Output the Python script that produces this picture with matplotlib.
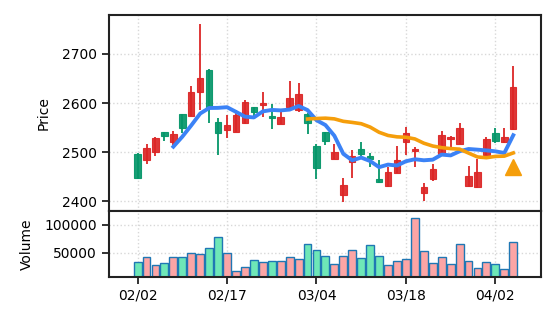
import matplotlib
matplotlib.use("Agg")
import matplotlib.pyplot as plt
import numpy as np
import pandas as pd

# daily candles (red = up, green = down)
opens = [2496, 2484, 2501, 2541, 2520.6, 2577.5, 2574, 2622, 2667.5, 2561,
         2545.6, 2542, 2559, 2591.7, 2596.4, 2574.7, 2558.5, 2592.3, 2585, 2578,
         2512.5, 2541, 2486.5, 2413, 2480.5, 2505.7, 2492, 2445.4, 2430.5, 2457.6,
         2520, 2502.2, 2416.3, 2446, 2496, 2527.4, 2516.5, 2430.5, 2429, 2495,
         2539, 2520, 2547]
closes = [2447.5, 2508.4, 2530, 2533.5, 2537.5, 2549, 2623.5, 2650.6, 2589.6, 2539,
          2555.8, 2576, 2602, 2581.5, 2600.5, 2570.6, 2571.4, 2610, 2618, 2559,
          2467.8, 2522, 2501, 2434, 2492.8, 2496, 2486.6, 2439, 2460, 2483.3,
          2539.5, 2507, 2428.5, 2466.4, 2534.8, 2531.4, 2549, 2451.5, 2459.6, 2527.4,
          2522, 2532, 2632]
highs = [2499, 2516.5, 2531, 2541.5, 2543.6, 2578, 2635, 2761, 2669, 2569,
         2576, 2586, 2606.6, 2592, 2622.8, 2598.4, 2581, 2645, 2641, 2579,
         2517, 2542, 2516.5, 2447.5, 2504, 2521, 2499, 2484, 2470.5, 2513,
         2551.7, 2509.7, 2437.3, 2476.6, 2543.6, 2533.4, 2560, 2472.5, 2486, 2532,
         2549, 2549, 2675.6]
lows = [2446, 2476.6, 2492, 2522, 2514, 2539, 2573, 2585, 2560.5, 2493.5,
        2530, 2541, 2558, 2574, 2572.7, 2547.7, 2557, 2591, 2582, 2537,
        2444.7, 2514, 2486, 2398, 2447.5, 2486, 2470, 2438, 2430, 2457,
        2494, 2470.4, 2401.3, 2440.7, 2495, 2509.7, 2516, 2430, 2428, 2494,
        2518, 2519, 2546]
volumes = [33900, 42900, 28600, 31000, 41800, 41800, 50000, 47000, 57800, 77500,
           48800, 17900, 23900, 36400, 33900, 35800, 35800, 41800, 38200, 66100,
           54200, 44600, 29300, 43600, 54300, 40000, 64300, 43600, 27500, 34600,
           38200, 111400, 52500, 31000, 41800, 29300, 65000, 34600, 22100, 32900,
           29300, 20400, 68600]

tick_pos = [0, 10, 20, 30, 40]
tick_labels = ["02/02", "02/17", "03/04", "03/18", "04/02"]

signal_idx = 42
signal_price = 2469

UP, DOWN = "#dc2626", "#059669"
VOL_UP, VOL_DOWN = "#fca5a5", "#6ee7b7"

df = pd.DataFrame({"open": opens, "high": highs, "low": lows,
                   "close": closes, "volume": volumes})
df["ma5"] = df["close"].rolling(5).mean()
df["ma20"] = df["close"].rolling(20).mean()
x = np.arange(len(df))
up = df["close"] >= df["open"]

fig = plt.figure(figsize=(5.56, 3.22), dpi=100)
gs = fig.add_gridspec(2, 1, height_ratios=[3, 1], hspace=0,
                      left=0.196, right=0.973, top=0.953, bottom=0.141)
ax = fig.add_subplot(gs[0])
axv = fig.add_subplot(gs[1], sharex=ax)

# candles
cols = np.where(up, UP, DOWN)
ax.vlines(x, df["low"], df["high"], colors=cols, linewidth=1.3, zorder=2)
body_lo = np.minimum(df["open"], df["close"])
body_h = np.maximum((df["close"] - df["open"]).abs(), 0.8)
ax.bar(x, body_h, bottom=body_lo, width=0.72, color=cols, edgecolor=cols,
       linewidth=0.8, alpha=0.92, zorder=2.5)

ax.plot(x, df["ma5"], color="#3b82f6", linewidth=2.8, zorder=3)
ax.plot(x, df["ma20"], color="#f59e0b", linewidth=2.6, zorder=3)
ax.plot([signal_idx], [signal_price], marker="^", markersize=12,
        color="#f59e0b", linestyle="none", zorder=4)

ax.set_ylabel("Price", labelpad=8)
ax.set_yticks([2400, 2500, 2600, 2700])
ax.set_ylim(2380, 2779)
ax.tick_params(axis="x", which="both", bottom=False, labelbottom=False)

# volume
vcols = np.where(up, VOL_UP, VOL_DOWN)
axv.bar(x, df["volume"], width=0.88, color=vcols, edgecolor="#1f77b4",
        linewidth=1.0, zorder=2)
axv.set_ylabel("Volume", labelpad=8)
axv.set_yticks([50000, 100000])
axv.set_yticklabels(["50000", "100000"])
axv.set_ylim(7000, 124000)
axv.set_xticks(tick_pos)
axv.set_xticklabels(tick_labels)
axv.set_xlim(-3.2, 45.1)

for a in (ax, axv):
    a.grid(True, linestyle=":", color="#d8d8d8", linewidth=1.0, zorder=0)
    a.set_axisbelow(True)
    for s in a.spines.values():
        s.set_linewidth(1.5)
        s.set_color("#222222")
    a.tick_params(length=5, width=1.3, color="#222222", labelsize=10)

fig.savefig("out.png", dpi=100)
